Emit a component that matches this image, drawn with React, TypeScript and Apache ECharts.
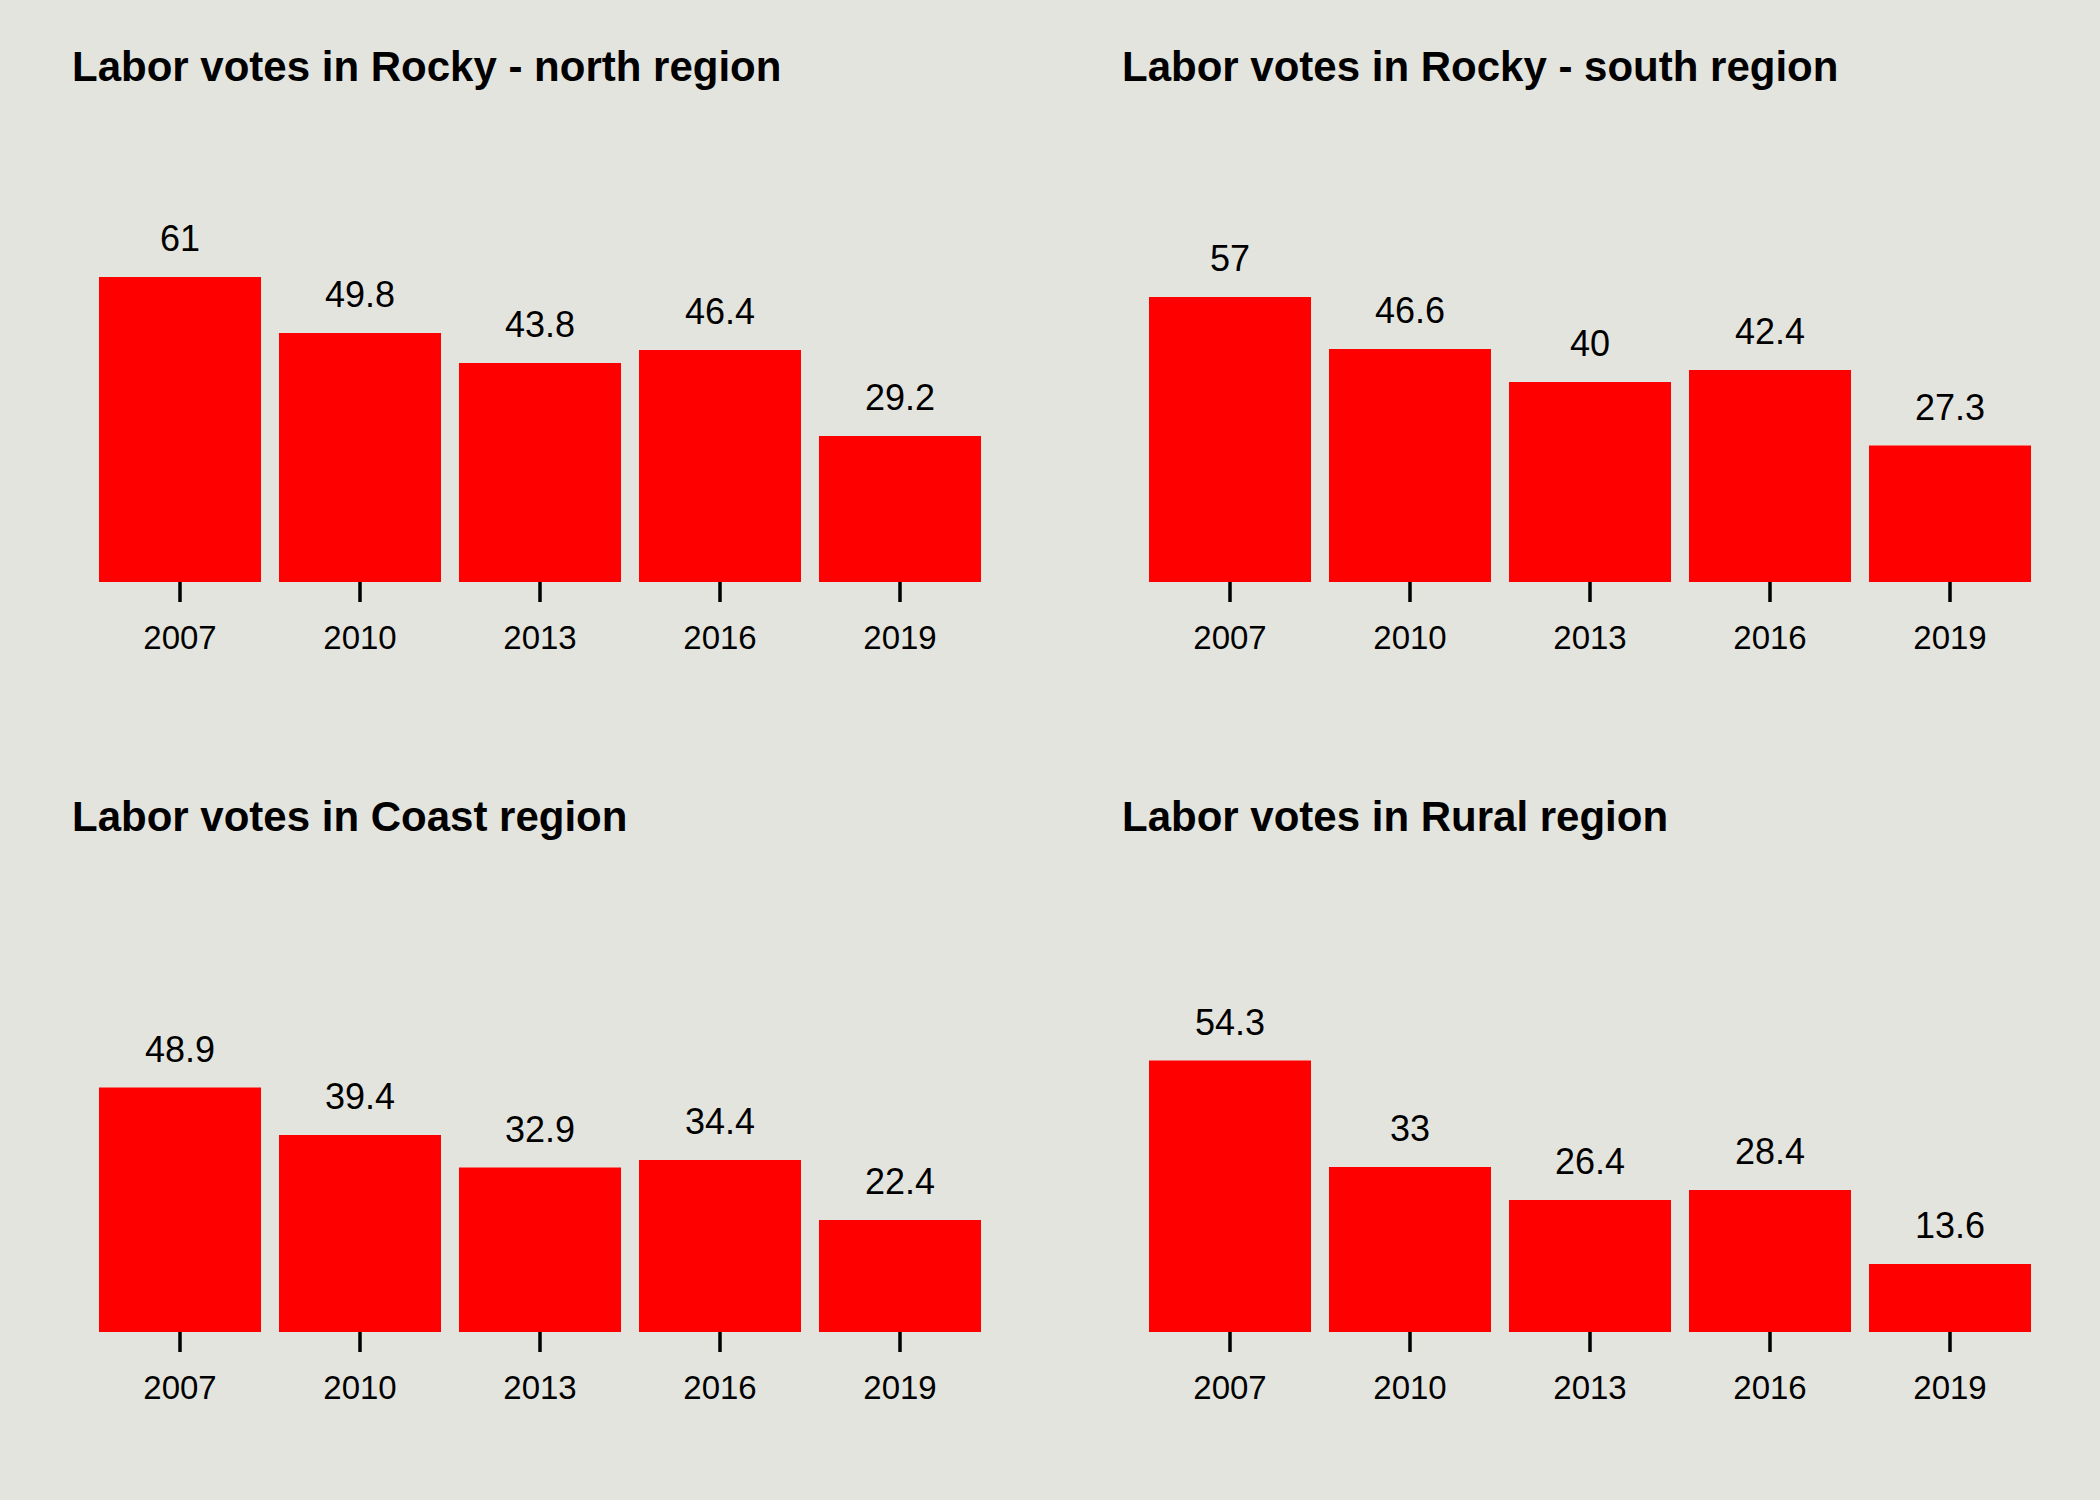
import React, { useEffect, useRef } from "react";
import * as echarts from "echarts";

const years = ["2007", "2010", "2013", "2016", "2019"];
const titles = [
  "Labor votes in Rocky - north region",
  "Labor votes in Rocky - south region",
  "Labor votes in Coast region",
  "Labor votes in Rural region",
];
const north = [61, 49.8, 43.8, 46.4, 29.2];
const south = [57, 46.6, 40, 42.4, 27.3];
const coast = [48.9, 39.4, 32.9, 34.4, 22.4];
const rural = [54.3, 33, 26.4, 28.4, 13.6];
const seriesData = [north, south, coast, rural];

const FONT = "'Liberation Sans', Arial, Helvetica, sans-serif";

export default function App() {
  const ref = useRef<HTMLDivElement>(null);
  useEffect(() => {
    if (!ref.current) return;
    const chart = echarts.init(ref.current, undefined, { renderer: "svg" });
    const panelW = 1050;
    const panelH = 750;
    const grids: any[] = [];
    const xAxes: any[] = [];
    const yAxes: any[] = [];
    const series: any[] = [];
    const titleOpts: any[] = [];
    seriesData.forEach((data, i) => {
      const col = i % 2;
      const row = Math.floor(i / 2);
      const ox = col * panelW;
      const oy = row * panelH;
      titleOpts.push({
        text: titles[i],
        left: ox + 72,
        top: oy + 45.5,
        padding: 0,
        textStyle: { fontSize: 42, fontWeight: "bold", color: "#000", fontFamily: FONT },
      });
      grids.push({ left: ox + 90, top: oy + 232, width: 900, height: 350 });
      xAxes.push({
        type: "category",
        gridIndex: i,
        data: years,
        axisLine: { show: false },
        axisTick: { show: true, alignWithLabel: true, length: 20, lineStyle: { color: "#000", width: 3.5 } },
        axisLabel: { margin: 38.5, fontSize: 33, color: "#000", fontFamily: FONT },
      });
      yAxes.push({ type: "value", gridIndex: i, min: 0, max: 70, show: false, splitLine: { show: false } });
      series.push({
        type: "bar",
        xAxisIndex: i,
        yAxisIndex: i,
        data,
        barWidth: "90%",
        itemStyle: { color: "#FF0000" },
        label: { show: true, position: "top", distance: 20.5, fontSize: 36, color: "#000", fontFamily: FONT },
      });
    });
    chart.setOption({
      animation: false,
      backgroundColor: "#E4E4DE",
      title: titleOpts,
      grid: grids,
      xAxis: xAxes,
      yAxis: yAxes,
      series,
    });
    return () => chart.dispose();
  }, []);
  return <div ref={ref} style={{ position: "absolute", left: 0, top: 0, width: 2100, height: 1500 }} />;
}
